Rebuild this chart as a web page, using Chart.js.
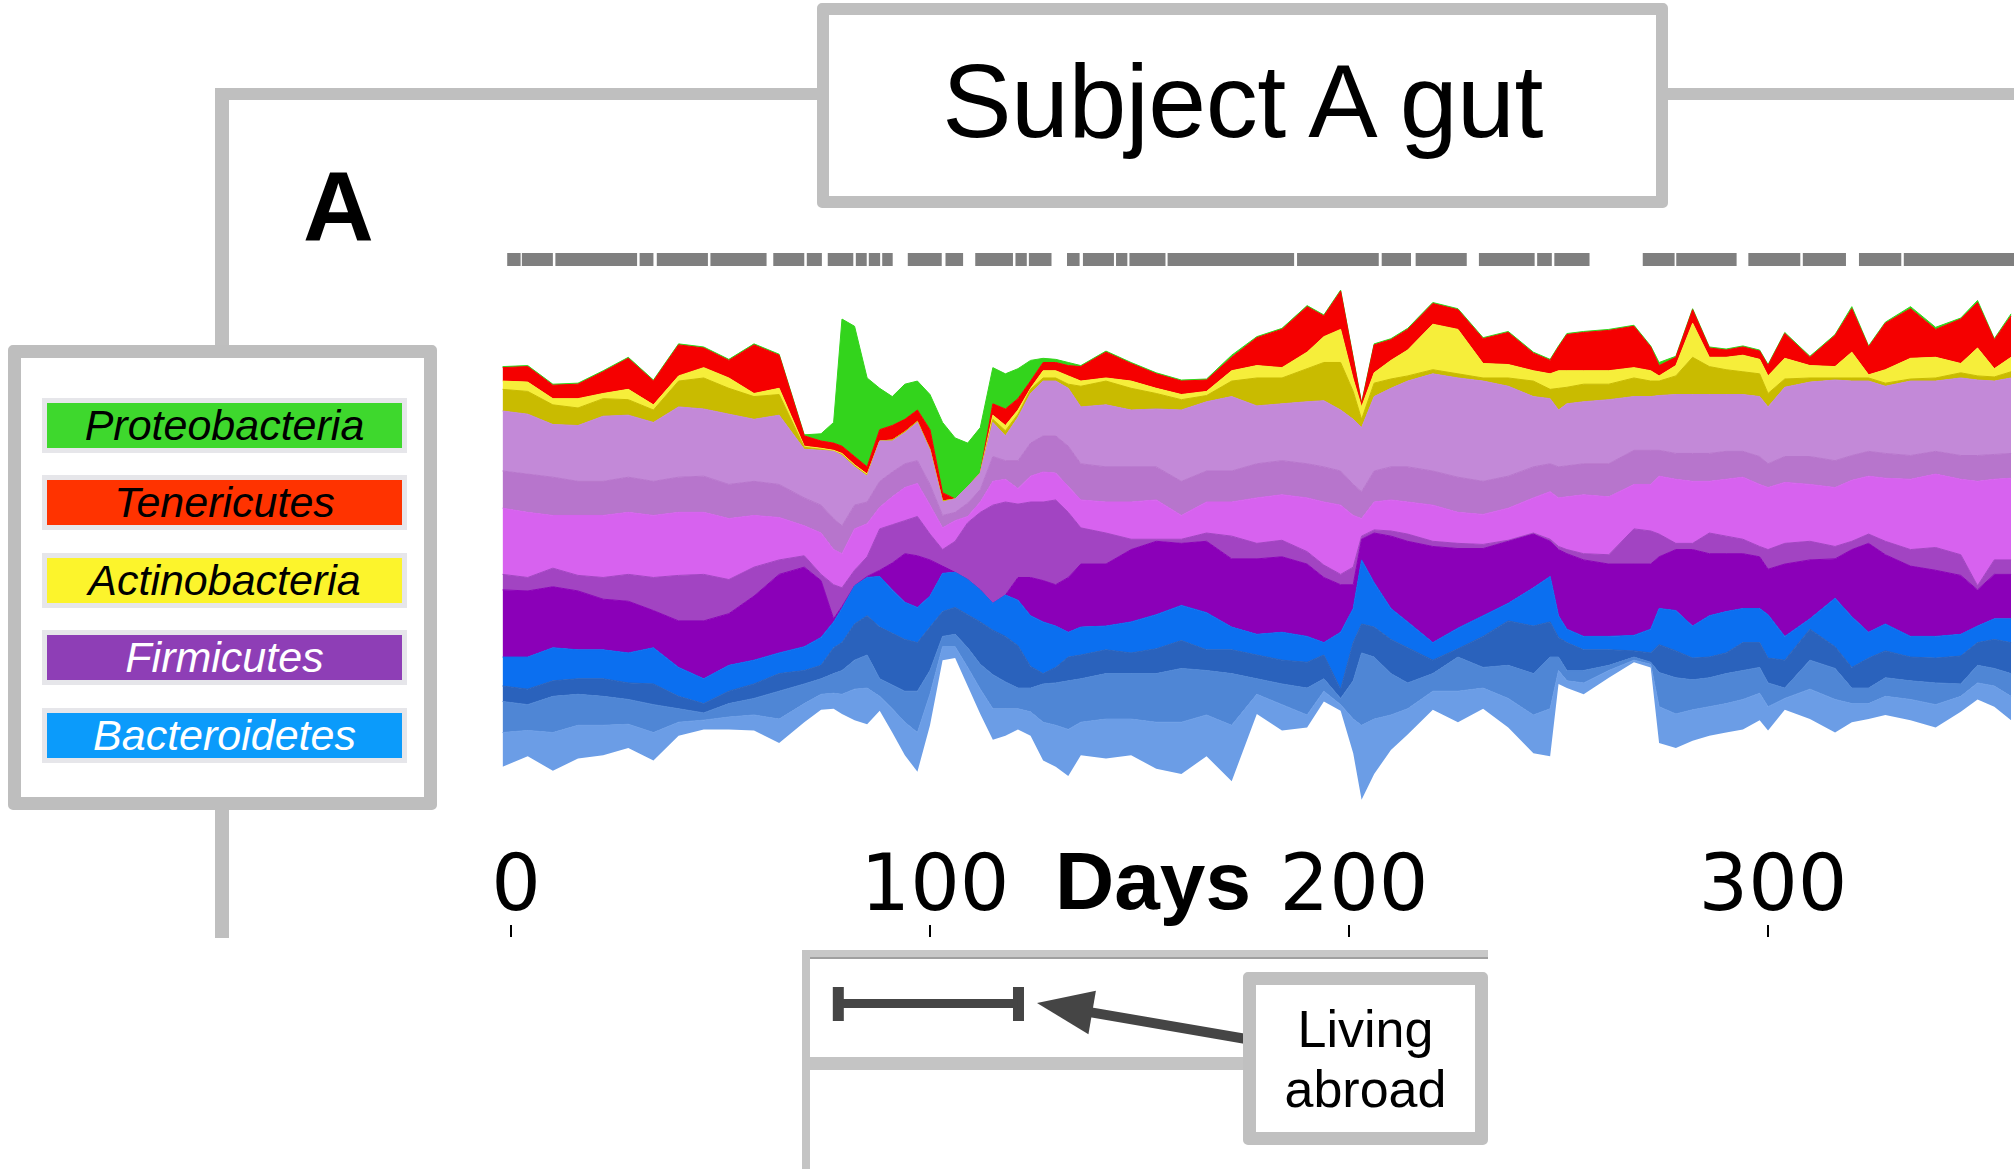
<!DOCTYPE html>
<html>
<head>
<meta charset="utf-8">
<title>Subject A gut</title>
<script src="https://cdn.jsdelivr.net/npm/chart.js@4.4.1/dist/chart.umd.min.js"></script>
<style>
html,body{margin:0;padding:0;background:#fff;}
#wrap{position:relative;width:2014px;height:1169px;overflow:hidden;background:#fff;font-family:"Liberation Sans",Arial,Helvetica,sans-serif;}
#c{position:absolute;left:0;top:0;}
.gl{position:absolute;background:#bfbfbf;}
.box{position:absolute;box-sizing:border-box;background:#fff;border-style:solid;border-color:#bfbfbf;border-radius:5px;}
.txt{position:absolute;white-space:nowrap;line-height:1;color:#000;}
.lg{position:absolute;left:47px;width:355px;height:45px;box-shadow:0 0 0 5px #e6e6ea;display:flex;align-items:center;justify-content:center;font-style:italic;font-size:43px;line-height:1;}
</style>
</head>
<body>
<div id="wrap">
<canvas id="c" width="2014" height="1169"></canvas>

<div class="gl" style="left:215px;top:88px;width:604px;height:12px;"></div>
<div class="gl" style="left:1666px;top:88px;width:348px;height:12px;"></div>
<div class="gl" style="left:215px;top:88px;width:14px;height:260px;"></div>
<div class="gl" style="left:215px;top:806px;width:14px;height:132px;"></div>

<div class="box" style="left:817px;top:3px;width:851px;height:205px;border-width:12px;"></div>
<div class="txt" style="left:817px;width:851px;top:49px;text-align:center;font-size:104px;letter-spacing:-0.5px;">Subject A gut</div>

<div class="txt" style="left:303px;top:157px;font-size:98px;font-weight:bold;">A</div>

<div class="box" style="left:8px;top:345px;width:429px;height:465px;border-width:13px;border-color:#bebebe;"></div>
<div id="legend"></div>

<div class="txt" style="left:1055px;top:840px;font-size:82px;font-weight:bold;">Days</div>

<div style="position:absolute;left:802px;top:950px;width:686px;height:7px;background:#c8c8c8;border-bottom:2px solid #a0a0a0;"></div>
<div style="position:absolute;left:802px;top:950px;width:8px;height:219px;background:#c4c4c4;"></div>
<div style="position:absolute;left:802px;top:1057px;width:445px;height:13px;background:#c4c4c4;"></div>
<div class="box" style="left:1243px;top:972px;width:245px;height:173px;border-width:13px;border-color:#c0c0c0;"></div>
<div class="txt" style="left:1243px;width:245px;top:1003px;text-align:center;font-size:52px;">Living</div>
<div class="txt" style="left:1243px;width:245px;top:1063px;text-align:center;font-size:52px;">abroad</div>
</div>

<script>
// ---------------- DATA ----------------
const days = [-2,4,10,16,22,28,34,40,46,52,
 58,64,70,74,77,79,82,85,88,91,
 94,97,100,103,106,109,112,115,118,121,
 124,127,130,133,136,142,148,154,160,166,
 172,178,184,190,194,198,201,203,206,210,
 214,220,226,232,238,244,248,250,252,256,
 262,268,272,274,278,282,286,290,294,298,
 300,304,310,316,320,324,328,334,340,346,
 350,354,358];

// stream edges (cumulative abundance units, from the bottom of the stream upward)
const bottomEdge = [67,77,63,75,78,85,73,97,103,103,
 102,90,110,122,123,118,112,108,121,100,
 78,62,107,170,172,145,118,93,97,103,
 97,73,67,58,78,75,78,65,60,77,
 53,118,102,105,130,121,80,35,60,83,
 98,122,110,123,105,80,77,147,143,137,
 153,168,163,90,85,92,97,100,103,112,
 102,122,113,100,110,113,117,112,105,120,
 132,125,112];

const bactLowTop = [100,102,100,107,107,108,100,110,112,115,
 117,113,128,137,138,137,142,143,135,123,
 110,100,137,183,183,163,142,123,123,123,
 120,110,107,103,110,113,113,110,110,117,
 107,137,127,117,140,127,113,107,113,117,
 123,140,140,143,133,117,123,160,150,148,
 160,170,166,125,118,122,125,128,132,138,
 125,133,142,132,128,128,135,132,127,135,
 148,145,135];

const bactLightTop = [130,127,135,137,135,132,127,123,119,128,
 133,140,147,152,157,160,170,175,152,146,
 140,140,160,193,195,182,166,156,149,143,
 143,147,148,150,152,157,157,157,162,160,
 157,152,147,143,152,133,150,177,173,157,
 148,157,173,163,165,157,173,173,160,160,
 165,173,168,158,153,151,153,157,160,163,
 148,143,170,162,143,143,153,150,148,147,
 165,162,157];

const bactDarkTop = [145,142,150,152,152,148,147,135,128,140,
 147,157,160,165,182,187,205,213,202,196,
 190,187,202,217,221,214,207,199,193,184,
 164,157,163,173,175,180,177,181,189,180,
 180,175,170,168,175,142,187,205,202,190,
 182,170,181,193,208,203,207,192,187,180,
 180,179,177,185,179,172,173,177,187,187,
 172,170,200,183,163,172,179,173,172,174,
 187,190,187];

const bactBrightTop = [173,173,182,180,180,177,182,163,152,165,
 170,177,183,192,207,220,242,250,251,238,
 226,221,232,254,255,248,238,225,233,228,
 213,207,203,197,202,203,207,214,223,216,
 202,195,197,193,187,197,220,267,245,220,
 207,187,201,213,225,240,251,213,200,193,
 193,194,200,220,218,203,213,217,220,220,
 214,193,210,230,212,197,205,193,193,195,
 203,210,210];

const firmDarkTop = [238,237,241,237,229,227,218,208,208,215,
 232,253,260,247,210,222,242,251,257,264,
 273,271,267,261,255,248,238,225,233,250,
 250,247,243,250,263,263,277,285,283,285,
 268,268,270,263,250,243,243,287,293,290,
 285,280,278,278,285,292,285,277,273,267,
 263,263,263,270,277,277,273,273,273,270,
 258,263,267,268,277,283,272,261,257,252,
 238,253,253];

const firmMidTop = [253,250,259,252,250,253,250,252,253,248,
 260,267,271,253,243,240,257,270,297,301,
 305,309,292,277,285,303,313,320,323,321,
 323,323,325,313,298,293,287,287,287,293,
 290,283,286,275,262,253,260,290,296,295,
 292,285,283,282,286,293,287,280,277,273,
 272,297,295,292,283,283,293,290,287,280,
 277,283,285,280,285,292,285,277,279,272,
 242,267,267];

const firmPinkTop = [317,313,310,310,310,313,310,313,313,307,
 310,308,300,293,277,273,297,302,318,328,
 337,341,320,298,305,309,323,343,345,336,
 348,352,351,338,325,323,323,325,310,323,
 323,327,330,327,323,320,310,307,323,325,
 323,320,313,311,317,327,333,327,328,330,
 328,340,340,348,345,343,343,345,347,340,
 337,342,340,337,344,348,346,345,350,345,
 343,345,346];

const firmLavLowTop = [353,350,347,343,343,347,343,347,348,340,
 343,340,327,320,307,300,320,323,343,352,
 360,363,340,310,313,322,335,367,363,363,
 380,387,387,377,360,357,357,357,343,353,
 353,360,363,360,357,353,340,333,353,357,
 357,353,347,343,348,357,360,357,358,360,
 360,373,373,373,370,370,370,372,372,367,
 360,367,367,363,368,372,370,368,372,368,
 368,369,370];

const firmLavTop = [411,408,398,397,406,407,400,415,413,408,
 403,407,374,373,372,368,357,348,382,382,
 390,400,373,323,326,338,351,400,387,405,
 428,440,440,433,415,417,412,413,412,420,
 425,416,418,420,421,412,403,395,425,433,
 440,447,443,440,435,425,423,412,418,420,
 422,425,425,426,427,427,427,427,427,425,
 415,434,439,441,440,440,435,440,440,443,
 441,440,443];

const actinoOliveTop = [432,430,417,414,423,422,412,440,443,433,
 425,427,376,374,372,369,358,349,382,383,
 391,401,374,324,326,338,351,403,392,408,
 432,443,443,437,435,440,433,428,422,426,
 440,443,443,452,458,458,430,403,438,442,
 445,451,447,443,443,440,432,433,434,437,
 437,443,440,440,445,463,454,451,449,447,
 428,442,443,443,443,443,438,442,443,448,
 445,444,449];

const actinoYellowTop = [440,439,423,423,428,432,417,445,453,443,
 428,433,377,375,373,370,359,350,382,383,
 391,401,374,324,326,338,351,407,397,412,
 433,450,450,445,440,443,440,433,427,430,
 450,455,453,468,483,490,442,415,448,460,
 470,495,490,457,456,450,447,450,450,450,
 450,453,450,445,455,496,463,463,465,461,
 445,462,455,454,468,446,451,462,463,457,
 472,452,463];

const teneTop = [453,454,436,437,449,462,440,475,472,460,
 475,465,387,382,380,377,367,357,393,397,
 403,412,393,332,326,338,351,418,413,423,
 440,458,458,455,454,468,457,447,440,441,
 463,482,490,512,503,527,462,418,475,480,
 490,515,509,481,487,467,460,473,485,487,
 489,493,473,455,463,509,472,470,473,469,
 455,486,463,484,510,473,496,510,490,500,
 516,480,503];

const proteoTop = [454,455,437,438,450,463,441,476,473,461,
 476,466,388,389,400,500,493,443,433,425,
 437,440,427,400,385,380,395,453,447,452,
 460,462,461,458,455,469,458,448,441,442,
 465,483,491,513,504,528,463,419,476,481,
 491,516,510,482,488,468,461,474,486,488,
 490,494,474,458,464,510,473,471,474,470,
 456,487,464,485,512,474,497,512,492,501,
 518,481,505];

// sampled-day runs (grey bar above the stream)
const sampleRunStart = [-0.9,2.6,10.6,30.7,34.8,47.6,62.6,70.6,75.6,82.3,85.4,88.6,94.7,103.7,110.8,120.4,123.6,132.7,136.5,144.4,147.6,156.7,187.6,207.8,215.9,231.0,244.9,249.0,270.1,278.1,295.3,308.3,321.7,332.4];
const sampleRunEnd   = [2.3,10.0,30.1,34.0,47.0,61.0,70.0,74.2,81.7,84.9,88.1,91.1,102.8,107.9,119.8,123.1,129.0,135.7,143.9,147.1,156.2,186.9,207.1,214.8,228.1,244.3,248.4,257.4,277.7,292.5,307.7,318.6,331.8,359.5];

const xTicks = [0, 100, 200, 300];
const livingAbroad = [78, 121];

const phylumNames = ['Proteobacteria','Tenericutes','Actinobacteria','Firmicutes','Bacteroidetes'];

// ---------------- STYLE ----------------
const legendColors = ['#3ed82d','#ff3300','#fcf42c','#8e3eb6','#0b9bfb'];
const legendTextColors = ['#000','#000','#000','#fff','#fff'];
const legendTops = [403,480,558,635,713];

const legendEl = document.getElementById('legend');
phylumNames.forEach((n, i) => {
  const d = document.createElement('div');
  d.className = 'lg';
  d.style.top = legendTops[i] + 'px';
  d.style.background = legendColors[i];
  d.style.color = legendTextColors[i];
  d.textContent = n;
  legendEl.appendChild(d);
});

const layers = [
  {name:'Bacteroidetes', values: bactLowTop,     color:'#6b9de6'},
  {name:'Bacteroidetes', values: bactLightTop,   color:'#4f86d5'},
  {name:'Bacteroidetes', values: bactDarkTop,    color:'#2a62bc'},
  {name:'Bacteroidetes', values: bactBrightTop,  color:'#0b6ff0'},
  {name:'Firmicutes',    values: firmDarkTop,    color:'#8b00b8'},
  {name:'Firmicutes',    values: firmMidTop,     color:'#a244c2'},
  {name:'Firmicutes',    values: firmPinkTop,    color:'#d762ef'},
  {name:'Firmicutes',    values: firmLavLowTop,  color:'#b775cc'},
  {name:'Firmicutes',    values: firmLavTop,     color:'#c389d8'},
  {name:'Actinobacteria',values: actinoOliveTop, color:'#c9bb00'},
  {name:'Actinobacteria',values: actinoYellowTop,color:'#f6ee3a'},
  {name:'Tenericutes',   values: teneTop,        color:'#f50000'},
  {name:'Proteobacteria',values: proteoTop,      color:'#33d41c'}
];

const pts = arr => days.map((d, i) => ({x: d, y: arr[i]}));

const datasets = [{
  label: 'baseline', data: pts(bottomEdge), borderWidth: 0, pointRadius: 0, fill: false
}];
layers.forEach(L => datasets.push({
  label: L.name, data: pts(L.values), backgroundColor: L.color, borderColor: L.color,
  borderWidth: 1, pointRadius: 0, fill: '-1'
}));

const SAMPLE_LEVEL = 557.6;
const runPts = [];
sampleRunStart.forEach((s, i) => {
  runPts.push({x: s, y: SAMPLE_LEVEL}, {x: sampleRunEnd[i], y: SAMPLE_LEVEL}, {x: sampleRunEnd[i] + 0.01, y: null});
});
datasets.push({
  label: 'samples', data: runPts, borderColor: '#7f7f7f', borderWidth: 13,
  borderCapStyle: 'butt', pointRadius: 0, fill: false, spanGaps: false
});

const overlayPlugin = {
  id: 'overlay',
  afterDraw(chart) {
    const ctx = chart.ctx, xs = chart.scales.x;
    ctx.save();
    ctx.fillStyle = '#000';
    xTicks.forEach(v => {
      const px = Math.round(xs.getPixelForValue(v));
      ctx.fillRect(px - 1, 925, 2, 12);
    });
    const a = xs.getPixelForValue(livingAbroad[0]);
    const b = xs.getPixelForValue(livingAbroad[1]);
    ctx.fillStyle = '#454545';
    ctx.fillRect(a - 5, 987, 11, 34);
    ctx.fillRect(b - 5, 987, 11, 34);
    ctx.fillRect(a, 999, b - a, 9);
    const tip = {x: b + 19, y: 1003}, tail = {x: 1252, y: 1040};
    const dx = tip.x - tail.x, dy = tip.y - tail.y, L = Math.hypot(dx, dy);
    const ux = dx / L, uy = dy / L, hl = 56, hw = 22;
    const bx = tip.x - ux * hl, by = tip.y - uy * hl;
    ctx.strokeStyle = '#454545';
    ctx.lineWidth = 10;
    ctx.lineCap = 'round';
    ctx.beginPath(); ctx.moveTo(tail.x, tail.y); ctx.lineTo(bx + ux * 4, by + uy * 4); ctx.stroke();
    ctx.beginPath();
    ctx.moveTo(tip.x, tip.y);
    ctx.lineTo(bx - uy * hw, by + ux * hw);
    ctx.lineTo(bx + uy * hw, by - ux * hw);
    ctx.closePath(); ctx.fill();
    ctx.restore();
  }
};

new Chart(document.getElementById('c'), {
  type: 'line',
  data: {datasets},
  options: {
    responsive: false,
    animation: false,
    devicePixelRatio: 1,
    layout: {padding: {left: 498.4, right: 0, top: 250, bottom: 0}, autoPadding: false},
    plugins: {legend: {display: false}, tooltip: {enabled: false}},
    elements: {point: {radius: 0}, line: {tension: 0}},
    scales: {
      x: {
        type: 'linear', position: 'bottom', min: -3, max: 358.7,
        afterBuildTicks: s => { s.ticks = xTicks.map(v => ({value: v})); },
        afterFit: s => { s.height = 349; },
        grid: {display: false, drawTicks: false},
        border: {display: false},
        ticks: {padding: 31, labelOffset: 5, autoSkip: false, maxRotation: 0, minRotation: 0,
                color: '#000', font: {family: 'DejaVu Sans', size: 78, lineHeight: 1}}
      },
      y: {display: false, min: 15.4, max: 566.8}
    }
  },
  plugins: [overlayPlugin]
});
</script>
</body>
</html>
